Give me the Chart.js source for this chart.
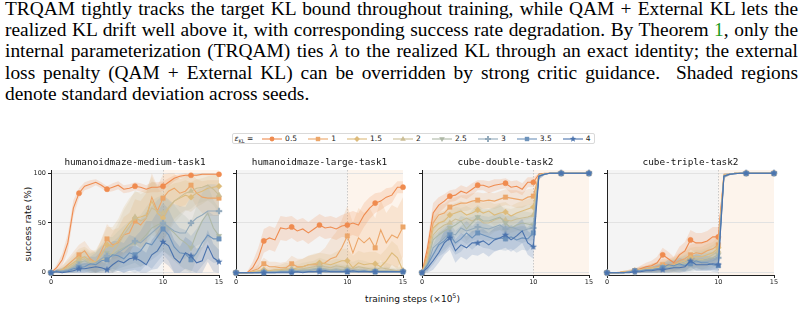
<!DOCTYPE html>
<html>
<head>
<meta charset="utf-8">
<script src="https://cdn.jsdelivr.net/npm/chart.js@4.4.1/dist/chart.umd.min.js"></script>
<style>
  html, body { margin: 0; padding: 0; background: #fff; }
  body { width: 805px; height: 310px; position: relative; overflow: hidden; }
  .cap { position: absolute; left: 5px; top: -2px; width: 793px;
         font-family: "Liberation Serif", "Times New Roman", serif; font-size: 19.4px;
         line-height: 21.2px; color: #000; }
  .cap div { text-align: justify; text-align-last: justify; white-space: nowrap; }
  .cap div.last { text-align-last: left; }
  .cap .ref { color: #1a9a1a; }
  canvas { position: absolute; top: 150px; }
  .ptitle { position: absolute; top: 155.5px; width: 200px; text-align: center;
            font-family: "DejaVu Sans Mono", monospace; font-size: 9.4px; color: #111; line-height: 11px; }
  #ylab { position: absolute; left: 28px; top: 224px; transform: translate(-50%, -50%) rotate(-90deg);
          font-family: "DejaVu Sans", sans-serif; font-size: 9px; color: #111; white-space: nowrap; }
  #xlab { position: absolute; left: 412.5px; top: 298px; transform: translate(-50%, -50%);
          font-family: "DejaVu Sans", sans-serif; font-size: 9px; color: #111; white-space: nowrap; }
  #xlab sup { font-size: 6.3px; vertical-align: 4px; }
  #legend { position: absolute; left: 232px; top: 133px; height: 11px; box-sizing: border-box;
            border: 1px solid #d9d9d9; border-radius: 2px; background: #fff;
            display: flex; align-items: center; padding: 0 3px 0 1.5px;
            font-family: "DejaVu Sans", sans-serif; font-size: 7.5px; color: #222; white-space: nowrap; }
  #legend .hd { margin-right: 8.5px; }
  #legend .hd sub { font-size: 5px; vertical-align: -1.5px; }
  #legend svg { display: block; margin-right: 3.3px; }
  #legend .it { display: flex; align-items: center; margin-right: 10.8px; }
  #legend .it:last-child { margin-right: 0; }
</style>
</head>
<body>
<div class="cap">
  <div>TRQAM tightly tracks the target KL bound throughout training, while QAM + External KL lets the</div>
  <div>realized KL drift well above it, with corresponding success rate degradation. By Theorem <span class="ref">1</span>, only the</div>
  <div>internal parameterization (TRQAM) ties <i>λ</i> to the realized KL through an exact identity; the external</div>
  <div>loss penalty (QAM + External KL) can be overridden by strong critic guidance.&nbsp; Shaded regions</div>
  <div class="last">denote standard deviation across seeds.</div>
</div>

<div id="legend"></div>
<div id="ylab">success rate (%)</div>
<div id="xlab">training steps (×10<sup>5</sup>)</div>

<canvas id="c0" width="229" height="140" style="left:0px"></canvas>
<canvas id="c1" width="187" height="140" style="left:226px"></canvas>
<canvas id="c2" width="187" height="140" style="left:412px"></canvas>
<canvas id="c3" width="187" height="140" style="left:597px"></canvas>

<script>
// ---------------- DATA ----------------
const STEPS = [0,0.5,1,1.5,2,2.5,3,3.5,4,4.5,5,5.5,6,6.5,7,7.5,8,8.5,9,9.5,10,10.5,11,11.5,12,12.5,13,13.5,14,14.5,15];
const EPSILONS = ['0.5','1','1.5','2','2.5','3','3.5','4'];
const TASKS = ['humanoidmaze-medium-task1','humanoidmaze-large-task1','cube-double-task2','cube-triple-task2'];
const X_TICKS = [0, 10, 15];
const Y_TICKS = [0, 50, 100];
const PHASE_SPLIT = 10;

// humanoidmaze-medium-task1 : mean success per epsilon (rows = EPSILONS)
const mediumMean = [
  [0,5,13,30,65,80,87,89,91,88,84,86,88,84,85,87,86,84,86,86,87,91,95,97,98,98,98,99,99,99,99],
  [0,1,3,8,13,18,22,14,10,22,34,28,30,38,40,52,48,55,76,62,75,82,85,80,82,88,80,76,75,75,75],
  [0,1,3,6,10,14,16,12,11,18,28,26,32,42,50,55,56,58,72,60,55,65,72,75,78,76,80,82,85,86,87],
  [0,1,2,4,8,12,14,10,10,13,15,20,28,38,46,56,52,55,65,62,60,66,72,76,80,82,85,86,88,84,78],
  [0,1,2,3,6,10,12,9,9,14,20,18,22,25,28,30,32,38,45,48,50,45,40,34,30,25,40,52,60,45,37],
  [0,1,2,3,5,8,9,8,10,14,17,16,20,24,28,32,30,35,40,45,50,46,42,40,40,50,55,58,62,62,62],
  [0,2,1,2,4,5,6,9,8,12,13,18,17,14,20,18,22,30,28,36,44,38,26,20,19,13,20,30,38,34,34],
  [0,1,0,1,2,4,4,5,6,5,3,8,12,10,14,15,12,8,18,22,31,27,15,10,20,17,10,12,27,15,11]
];
const mediumStd = [
  [0,3,6,9,8,5,4,4,3,3,3,4,4,4,4,4,4,4,5,5,5,4,3,2,2,1,1,1,1,1,1],
  [0,2,4,6,8,10,10,10,10,12,15,15,15,18,20,22,24,25,25,25,24,20,15,14,14,12,14,16,18,18,18],
  [0,2,4,6,8,10,10,10,12,15,18,20,22,24,25,26,26,26,25,25,25,22,18,16,15,15,14,13,12,12,12],
  [0,2,3,5,7,9,10,10,12,14,16,20,22,25,26,27,27,27,27,27,27,25,22,20,18,18,16,15,15,16,18],
  [0,2,3,5,6,8,10,10,12,14,16,18,20,22,24,25,26,28,28,28,28,28,28,27,27,26,27,28,28,28,28],
  [0,2,3,4,5,7,8,8,10,12,14,15,16,18,20,22,24,26,27,28,28,28,27,27,26,27,28,28,27,27,26],
  [0,2,2,3,4,5,6,7,8,10,12,14,15,16,18,18,20,22,24,25,26,26,26,25,24,24,24,23,24,24,24],
  [0,1,1,2,3,4,5,5,6,6,6,8,10,10,12,12,12,12,15,18,20,20,18,16,16,15,14,14,16,14,12]
];

// humanoidmaze-large-task1
const largeMean = [
  [0,0,0,5,15,32,35,33,45,44,46,42,44,40,44,48,45,46,44,47,48,50,48,58,65,70,72,76,78,86,86],
  [0,0,0,2,4,9,6,6,5,5,9,6,6,8,8,8,10,14,16,25,37,20,35,30,35,25,43,30,38,35,46],
  [0,0,0,1,2,3,2,3,3,4,3,5,6,8,9,10,9,8,10,12,12,5,10,8,9,9,6,12,20,15,2],
  [0,0,0,0,1,2,1,2,2,3,4,3,4,5,6,8,6,5,7,6,5,4,6,5,4,3,5,4,3,2,2],
  [0,0,0,0,1,1,1,1,2,2,2,2,3,3,4,5,4,3,4,3,3,2,3,2,2,2,2,2,2,1,1],
  [0,0,0,0,0,1,1,1,1,1,2,2,2,2,3,3,3,2,3,2,2,2,2,2,1,1,1,1,1,1,1],
  [0,0,0,0,0,0,0,0,1,1,1,1,1,1,1,2,1,1,1,1,1,1,1,2,1,1,1,1,1,1,1],
  [0,0,0,0,0,0,0,0,0,0,0,1,0,1,1,1,2,1,1,1,1,2,1,1,1,1,1,1,1,1,1]
];
const largeStd = [
  [0,0,1,6,10,12,12,12,12,12,11,11,11,11,11,11,11,11,11,11,12,12,12,12,11,10,9,9,8,6,6],
  [0,0,0,2,4,6,5,5,5,6,8,8,8,9,10,12,15,20,25,28,30,30,30,30,30,30,30,30,30,30,30],
  [0,0,0,1,2,3,3,4,5,6,6,7,8,9,10,10,10,10,11,12,12,12,12,12,12,12,12,12,12,12,10],
  [0,0,0,1,1,2,2,3,3,4,5,5,6,6,6,7,7,7,7,7,7,7,7,7,6,6,6,6,5,4,4],
  [0,0,0,1,1,1,2,2,2,3,3,3,4,4,5,5,5,5,5,5,5,4,4,4,4,4,4,4,3,3,3],
  [0,0,0,0,1,1,1,1,2,2,2,3,3,3,4,4,4,4,4,4,3,3,3,3,3,3,2,2,2,2,2],
  [0,0,0,0,0,1,1,1,1,1,1,1,2,2,2,2,2,2,2,2,2,2,2,2,2,2,2,2,2,2,2],
  [0,0,0,0,0,0,1,1,1,1,1,1,1,1,1,1,2,2,2,1,1,2,2,1,1,1,1,1,1,1,1]
];

// cube-double-task2
const doubleMean = [
  [0,25,60,68,72,77,78,82,80,84,88,88,86,88,89,90,86,87,84,91,91,99,100,100,100,100,100,100,100,100,100],
  [0,20,50,58,60,66,68,70,70,72,73,72,73,72,74,76,75,74,73,76,77,98,99.5,100,100,100,100,100,100,100,100],
  [0,15,45,50,52,58,60,62,58,60,63,60,62,58,60,61,57,60,62,64,66,98,99.5,100,100,100,100,100,100,100,100],
  [0,12,38,44,48,50,54,52,55,52,55,50,50,53,55,53,52,54,55,56,58,98,99.5,100,100,100,100,100,100,100,100],
  [0,10,33,38,42,45,48,52,44,50,56,52,52,54,56,50,45,48,50,49,48,97,99.5,100,100,100,100,100,100,100,100],
  [0,8,25,30,35,40,38,45,42,44,46,45,44,46,48,44,46,44,42,44,45,97,99,100,100,100,100,100,100,100,100],
  [0,8,18,28,32,38,30,34,40,35,40,38,36,34,35,34,36,33,35,34,40,97,99,100,100,100,100,100,100,100,100],
  [0,5,12,20,30,35,22,28,25,30,30,32,28,33,35,38,33,37,42,30,26,97,99,100,100,100,100,100,100,100,100]
];
const doubleStd = [
  [0,8,10,8,7,6,6,6,6,6,5,5,6,6,5,5,6,6,6,5,5,1,0,0,0,0,0,0,0,0,0],
  [0,8,10,10,9,8,8,8,8,8,8,8,8,8,8,8,8,9,8,8,8,2,0.5,0,0,0,0,0,0,0,0],
  [0,8,11,11,10,10,10,10,10,11,10,10,10,11,10,10,10,10,10,10,10,2,0.5,0,0,0,0,0,0,0,0],
  [0,8,12,12,12,12,12,13,12,12,12,12,13,12,12,12,12,12,12,12,12,2,0.5,0,0,0,0,0,0,0,0],
  [0,8,12,12,12,12,13,12,12,13,12,12,12,12,13,12,12,12,12,12,12,3,0.5,0,0,0,0,0,0,0,0],
  [0,7,12,12,12,12,12,12,13,12,12,12,12,12,12,13,12,12,12,12,12,3,1,0,0,0,0,0,0,0,0],
  [0,6,10,12,12,12,12,13,12,12,12,13,12,12,12,12,12,13,12,12,12,3,1,0,0,0,0,0,0,0,0],
  [0,5,9,10,12,12,12,12,12,12,13,12,12,12,12,13,12,12,12,12,12,3,1,0,0,0,0,0,0,0,0]
];

// cube-triple-task2
const tripleMean = [
  [0,0,0,1,1,2,4,6,7,10,18,14,10,18,22,33,30,30,32,36,36,98,99,100,100,100,100,100,100,100,100],
  [0,0,0,1,1,2,3,4,5,6,8,8,9,12,14,18,20,19,22,24,28,98,99,100,100,100,100,100,100,100,100],
  [0,0,0,1,1,2,3,4,5,5,6,7,8,10,12,15,16,16,18,20,25,98,99,100,100,100,100,100,100,100,100],
  [0,0,0,0,1,2,3,3,4,5,6,6,7,8,10,12,14,13,15,18,22,98,99,100,100,100,100,100,100,100,100],
  [0,0,0,0,1,1,2,3,3,4,5,6,7,8,9,10,12,12,13,15,18,97,99,100,100,100,100,100,100,100,100],
  [0,0,0,0,1,1,2,2,3,4,5,5,6,7,8,9,10,11,11,12,15,97,99,100,100,100,100,100,100,100,100],
  [0,0,0,0,1,2,2,3,3,4,5,8,7,9,7,9,12,10,10,8,7,97,99,99.5,100,100,100,100,100,100,100],
  [0,0,0,0,0,1,1,2,2,3,3,4,5,5,6,12,8,8,8,9,8,97,99,99.5,100,100,100,100,100,100,100]
];
const tripleStd = [
  [0,0,1,1,2,2,3,4,5,6,7,7,6,8,9,10,10,10,10,10,10,2,1,0,0,0,0,0,0,0,0],
  [0,0,1,1,2,2,3,3,4,5,6,6,7,8,9,10,10,10,11,11,12,2,1,0,0,0,0,0,0,0,0],
  [0,0,1,1,2,2,3,3,4,5,6,6,7,8,9,10,10,10,11,11,12,2,1,0,0,0,0,0,0,0,0],
  [0,0,0,1,1,2,2,3,4,4,5,6,7,8,8,9,9,10,10,10,11,2,1,0,0,0,0,0,0,0,0],
  [0,0,0,1,1,2,2,3,3,4,5,5,6,7,8,8,9,9,10,10,10,2,1,0,0,0,0,0,0,0,0],
  [0,0,0,1,1,2,2,3,3,4,4,5,6,6,7,8,8,9,9,9,10,2,1,0,0,0,0,0,0,0,0],
  [0,0,0,1,1,2,2,3,3,4,4,5,5,6,6,7,7,7,7,7,7,2,1,0.5,0,0,0,0,0,0,0],
  [0,0,0,0,1,1,2,2,3,3,3,4,4,5,5,6,6,6,6,6,6,2,1,0.5,0,0,0,0,0,0,0]
];

// ---------------- STYLE ----------------
const COLORS = ['#EF8B4F', '#ECA669', '#DDBB7B', '#CBBE96', '#AEB8A6', '#93AABB', '#6D93BB', '#4B73AD'];
const MARKERS = ['circle', 'square', 'diamond', 'triUp', 'triDown', 'plus', 'square', 'star'];

function rgba(hex, a) {
  const n = parseInt(hex.slice(1), 16);
  return `rgba(${(n >> 16) & 255},${(n >> 8) & 255},${n & 255},${a})`;
}

function markerCanvas(shape, color) {
  const s = 8, c = document.createElement('canvas');
  c.width = s; c.height = s;
  const g = c.getContext('2d');
  g.fillStyle = color;
  const cx = s / 2, cy = s / 2;
  if (shape === 'plus') {
    const a = 3.2, t = 1.1;
    g.fillRect(cx - a, cy - t, 2 * a, 2 * t);
    g.fillRect(cx - t, cy - a, 2 * t, 2 * a);
  } else if (shape === 'star') {
    g.beginPath();
    for (let k = 0; k < 10; k++) {
      const r = k % 2 ? 1.6 : 3.8;
      const ang = -Math.PI / 2 + k * Math.PI / 5;
      g.lineTo(cx + r * Math.cos(ang), cy + r * Math.sin(ang));
    }
    g.closePath(); g.fill();
  }
  return c;
}

function pointStyleFor(i) {
  switch (MARKERS[i]) {
    case 'circle': return { style: 'circle', r: 2.6, rot: 0 };
    case 'square': return { style: 'rect', r: 3.2, rot: 0 };
    case 'diamond': return { style: 'rectRot', r: 3.0, rot: 0 };
    case 'triUp': return { style: 'triangle', r: 3.2, rot: 0 };
    case 'triDown': return { style: 'triangle', r: 3.2, rot: 180 };
    case 'plus': return { style: markerCanvas('plus', COLORS[i]), r: 3, rot: 0 };
    case 'star': return { style: markerCanvas('star', COLORS[i]), r: 3, rot: 0 };
  }
}

const toXY = arr => STEPS.map((x, j) => ({ x, y: arr[j] }));

function buildDatasets(mean, std) {
  const ds = [];
  mean.forEach((m, i) => {
    const upper = m.map((v, j) => Math.min(100, v + std[i][j]));
    const lower = m.map((v, j) => Math.max(0, v - std[i][j]));
    const lowerIndex = ds.length + 1;
    ds.push({ data: toXY(upper), fill: { target: lowerIndex }, backgroundColor: rgba(COLORS[i], 0.2),
              borderWidth: 0, borderColor: 'rgba(0,0,0,0)', pointRadius: 0, order: 200 - i });
    ds.push({ data: toXY(lower), fill: false, borderWidth: 0, borderColor: 'rgba(0,0,0,0)',
              pointRadius: 0, order: 200 - i });
  });
  mean.forEach((m, i) => {
    const ps = pointStyleFor(i);
    ds.push({
      data: toXY(m), fill: false, borderColor: COLORS[i], borderWidth: 1.1,
      backgroundColor: COLORS[i], pointBackgroundColor: COLORS[i], pointBorderColor: COLORS[i],
      pointBorderWidth: 0.4, pointStyle: ps.style, pointRotation: ps.rot,
      pointRadius: ctx => (ctx.dataIndex % 5 === 0 ? ps.r : 0),
      tension: 0, clip: false, order: 50 - i
    });
  });
  return ds;
}

const bgPlugin = {
  id: 'phaseBg',
  beforeDraw(chart) {
    const { ctx, chartArea: a, scales: { x } } = chart;
    const xs = x.getPixelForValue(PHASE_SPLIT);
    ctx.save();
    ctx.fillStyle = '#f4f4f4';
    ctx.fillRect(a.left, a.top, xs - a.left, a.bottom - a.top);
    ctx.fillStyle = '#fdf4ec';
    ctx.fillRect(xs, a.top, a.right - xs, a.bottom - a.top);
    ctx.restore();
  },
  beforeDatasetsDraw(chart) {
    const { ctx, chartArea: a, scales: { x } } = chart;
    const xs = Math.round(x.getPixelForValue(PHASE_SPLIT)) + 0.5;
    ctx.save();
    ctx.strokeStyle = '#c9c9c9';
    ctx.lineWidth = 1;
    ctx.setLineDash([1.5, 1.5]);
    ctx.beginPath(); ctx.moveTo(xs, a.top); ctx.lineTo(xs, a.bottom); ctx.stroke();
    ctx.restore();
  }
};

const PANELS = [
  { mean: mediumMean, std: mediumStd, yW: 51, showY: true },
  { mean: largeMean, std: largeStd, yW: 10, showY: false },
  { mean: doubleMean, std: doubleStd, yW: 10, showY: false },
  { mean: tripleMean, std: tripleStd, yW: 10, showY: false }
];

const tickFont = { family: 'DejaVu Sans', size: 6.5 };

PANELS.forEach((p, k) => {
  const canvas = document.getElementById('c' + k);
  const chart = new Chart(canvas, {
    type: 'line',
    data: { datasets: buildDatasets(p.mean, p.std) },
    options: {
      responsive: false, animation: false, events: [],
      layout: { padding: { top: 20, right: 10, bottom: 0, left: 0 } },
      plugins: { legend: { display: false }, tooltip: { enabled: false }, title: { display: false },
                 filler: { propagate: false } },
      scales: {
        x: {
          type: 'linear', min: 0, max: 15,
          afterBuildTicks: s => { s.ticks = X_TICKS.map(v => ({ value: v })); },
          afterFit: s => { s.height = 15; },
          ticks: { font: tickFont, color: '#222', padding: 0, maxRotation: 0, autoSkip: false },
          grid: { drawOnChartArea: false, drawTicks: true, tickLength: 3, tickColor: '#222', tickWidth: 1 },
          border: { display: true, color: '#222', width: 1 }
        },
        y: {
          type: 'linear', min: -2.3, max: 103.3,
          afterBuildTicks: s => { s.ticks = Y_TICKS.map(v => ({ value: v })); },
          afterFit: s => { s.width = p.yW; },
          ticks: { display: p.showY, font: tickFont, color: '#222', padding: 2 },
          grid: { color: '#e2e2e2', lineWidth: 1, drawTicks: true, tickLength: 3, tickColor: '#222', tickWidth: 1 },
          border: { display: true, color: '#222', width: 1 }
        }
      }
    },
    plugins: [bgPlugin]
  });
  const a = chart.chartArea;
  const t = document.createElement('div');
  t.className = 'ptitle';
  t.textContent = TASKS[k];
  t.style.left = (canvas.offsetLeft + (a.left + a.right) / 2 - 100) + 'px';
  document.body.appendChild(t);
});

// ---------------- LEGEND ----------------
function iconSVG(i) {
  const c = COLORS[i];
  let m = '';
  switch (MARKERS[i]) {
    case 'circle': m = `<circle cx="10" cy="4" r="2.4" fill="${c}"/>`; break;
    case 'square': m = `<rect x="7.8" y="1.8" width="4.4" height="4.4" fill="${c}"/>`; break;
    case 'diamond': m = `<polygon points="10,1.1 12.9,4 10,6.9 7.1,4" fill="${c}"/>`; break;
    case 'triUp': m = `<polygon points="10,1.1 12.8,5.7 7.2,5.7" fill="${c}"/>`; break;
    case 'triDown': m = `<polygon points="10,6.9 12.8,2.3 7.2,2.3" fill="${c}"/>`; break;
    case 'plus': m = `<rect x="7" y="3" width="6" height="2" fill="${c}"/><rect x="9" y="1" width="2" height="6" fill="${c}"/>`; break;
    case 'star': {
      const pts = [];
      for (let k = 0; k < 10; k++) {
        const r = k % 2 ? 1.4 : 3.4, ang = -Math.PI / 2 + k * Math.PI / 5;
        pts.push((10 + r * Math.cos(ang)).toFixed(2) + ',' + (4 + r * Math.sin(ang)).toFixed(2));
      }
      m = `<polygon points="${pts.join(' ')}" fill="${c}"/>`;
      break;
    }
  }
  return `<svg width="20" height="8" viewBox="0 0 20 8"><line x1="0" y1="4" x2="20" y2="4" stroke="${c}" stroke-width="1.1"/>${m}</svg>`;
}
const legend = document.getElementById('legend');
let html = '<span class="hd"><i>ε</i><sub>KL</sub> =</span>';
EPSILONS.forEach((e, i) => { html += `<span class="it">${iconSVG(i)}<span>${e}</span></span>`; });
legend.innerHTML = html;
</script>
</body>
</html>
